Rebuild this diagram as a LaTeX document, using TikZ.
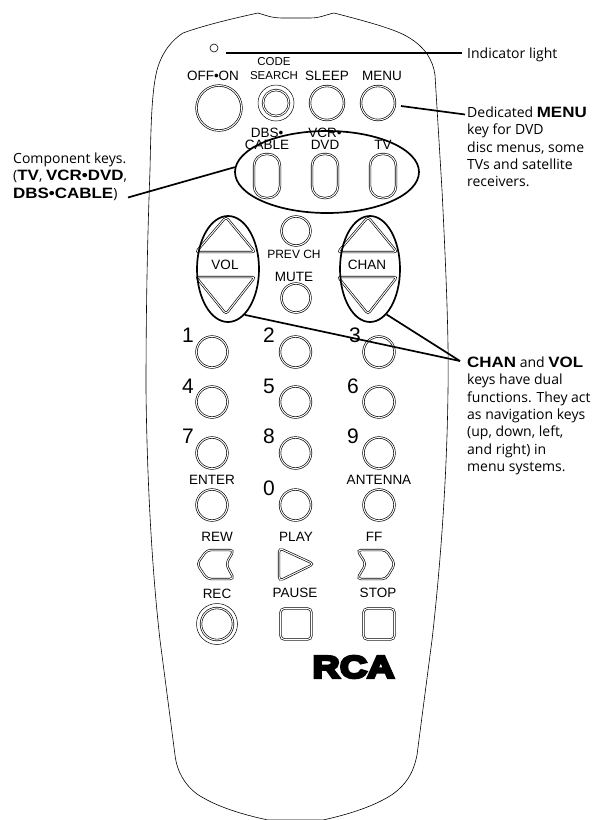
\documentclass[tikz,border=0pt]{standalone}
\usepackage{fontspec}
\usepackage{tikz}
\usetikzlibrary{positioning,shapes.geometric}
\setmainfont{Liberation Sans}
\newfontfamily\notefont{Open Sans}
\newfontfamily\wordfont[FakeStretch=1.13]{Liberation Sans}
\newfontfamily\rcafont[BoldFeatures={FakeBold=9,FakeStretch=1.22}]{Liberation Sans}
\newcommand{\kw}[1]{{\wordfont\bfseries\fontsize{15}{17.4}\selectfont #1}}
\tikzset{
  key/.style = {draw, circle, double, line width=0.65pt, double distance=1pt, inner sep=0, minimum size=29pt},
  keyline/.style = {draw, double, line width=0.65pt, double distance=1pt},
  lab/.style = {inner sep=0, font=\fontsize{13.5}{14}\selectfont},
  small/.style = {inner sep=0, font=\fontsize{11.5}{12}\selectfont},
  digit/.style = {inner sep=0, font=\fontsize{21}{22}\selectfont},
  ring/.style = {draw, ellipse, line width=1.7pt, inner sep=0},
  leader/.style = {line width=1.7pt},
  note/.style = {inner sep=0, anchor=north west, align=left, font=\notefont\fontsize{14}{17.4}\selectfont}
}
\begin{document}
\begin{tikzpicture}[x=1pt, y=-1pt, node distance=83.5pt]
\useasboundingbox (0,0) rectangle (597,820);

% body of the remote
\draw[line width=0.6pt] (258,13) .. controls (268,16) and (272,18) .. (283,18) -- (310,18)
  .. controls (320,18) and (325,15) .. (334,13) .. controls (365,21) and (395,29) .. (408,37)
  .. controls (425,47) and (433,60) .. (435,75) -- (442,190) .. controls (446,270) and (449,340) .. (448,390)
  .. controls (447,480) and (440,570) .. (432,640) -- (417,755) .. controls (413,775) and (405,785) .. (393,794)
  .. controls (375,806) and (350,814) .. (323,820) -- (268,820)
  .. controls (240,814) and (215,806) .. (197,794) .. controls (185,785) and (177,772) .. (175,755)
  -- (160,640) .. controls (152,570) and (147,480) .. (146,390) .. controls (146,320) and (147,250) .. (150,170)
  .. controls (151,120) and (152,90) .. (157,70) .. controls (162,52) and (172,40) .. (183,33)
  .. controls (205,25) and (235,18) .. (258,13);

% top row
\node[draw, circle, line width=0.6pt, inner sep=0, minimum size=8pt] (light) at (214,48) {};
\node[key, minimum size=45pt] (power) at (219,108) {};
\node[key, minimum size=26pt] (code) at (276,103) {};
\node[draw, circle, line width=0.5pt, inner sep=0, minimum size=36pt] (codeo) at (276,103) {};
\node[key, minimum size=34pt] (sleep) at (327,103) {};
\node[key, minimum size=34pt] (menu) at (378,103) {};
\node[lab] (lpower) at (213,76) {OFF•ON};
\node[small] (lcode) at (274,62) {CODE};
\node[small] (lsearch) at (274,76) {SEARCH};
\node[lab] (lsleep) at (327,76) {SLEEP};
\node[lab] (lmenu) at (382,76) {MENU};

% component keys
\foreach \name/\xx in {dbs/267,vcr/325,tv/383}
  \draw[keyline, rounded corners=12pt] (\xx-13,154) -- (\xx+13,154) -- (\xx+13,198) -- (\xx-13,198) -- cycle;
\node[lab] (ldbs) at (267,133) {DBS•};
\node[lab] (lcable) at (267,145) {CABLE};
\node[lab] (lvcr) at (325,133) {VCR•};
\node[lab] (ldvd) at (325,145) {DVD};
\node[lab] (ltv) at (383,145) {TV};
\node[ring, minimum width=184pt, minimum height=82pt] (compring) at (327,172) {};

% prev ch and mute
\node[key] (prev) at (296,231) {};
\node[key] (mute) at (296,298) {};
\node[small, font=\fontsize{12}{12}\selectfont] (lprev) at (294,254) {PREV CH};
\node[lab] (lmute) at (294,277) {MUTE};

% vol and chan rockers
\foreach \xx in {226,368} {
  \draw[keyline, rounded corners=3pt] (\xx,217) -- (\xx+29,252) -- (\xx-30,252) -- cycle;
  \draw[keyline, rounded corners=3pt] (\xx,314) -- (\xx+29,277) -- (\xx-30,277) -- cycle;
}
\node[lab] (lvol) at (225,265) {VOL};
\node[lab] (lchan) at (367,265) {CHAN};
\node[ring, minimum width=62pt, minimum height=106pt] (volring) at (228,269) {};
\node[ring, minimum width=60pt, minimum height=106pt] (chanring) at (370,269) {};

% number keys
\node[key, minimum size=31pt] (k1) at (212,352) {};
\node[key, minimum size=31pt] (k2) [right of=k1] {};
\node[key, minimum size=31pt] (k3) [right of=k2] {};
\node[key, minimum size=31pt] (k4) at (212,402) {};
\node[key, minimum size=31pt] (k5) [right of=k4] {};
\node[key, minimum size=31pt] (k6) [right of=k5] {};
\node[key, minimum size=31pt] (k7) at (212,453) {};
\node[key, minimum size=31pt] (k8) [right of=k7] {};
\node[key, minimum size=31pt] (k9) [right of=k8] {};
\node[key, minimum size=31pt] (enter) at (212,505) {};
\node[key, minimum size=31pt] (k0) [right of=enter] {};
\node[key, minimum size=31pt] (ant) [right of=k0] {};
\node[digit] (d1) at (188,335) {1};
\node[digit] (d2) at (269,335) {2};
\node[digit] (d3) at (355,335) {3};
\node[digit] (d4) at (188,386) {4};
\node[digit] (d5) at (269,386) {5};
\node[digit] (d6) at (353,386) {6};
\node[digit] (d7) at (188,436) {7};
\node[digit] (d8) at (269,436) {8};
\node[digit] (d9) at (353,436) {9};
\node[digit] (d0) at (269,488) {0};
\node[lab] (lenter) at (212,480) {ENTER};
\node[lab] (lant) at (379,480) {ANTENNA};

% transport keys
\draw[keyline, rounded corners=4pt] (197,564) -- (207,550) -- (234,550) -- (226,564) -- (234,579) -- (207,579) -- cycle;
\draw[keyline, rounded corners=4pt] (279,548) -- (314,564) -- (279,581) -- cycle;
\draw[keyline, rounded corners=4pt] (395,564) -- (386,550) -- (357,550) -- (366,564) -- (357,579) -- (386,579) -- cycle;
\node[lab] (lrew) at (217,537) {REW};
\node[lab] (lplay) at (296,537) {PLAY};
\node[lab] (lff) at (374,537) {FF};
\node[key, minimum size=32pt] (rec) at (217,624) {};
\node[draw, circle, line width=0.5pt, inner sep=0, minimum size=41pt] (reco) at (217,624) {};
\node[keyline, rectangle, rounded corners=4pt, inner sep=0, minimum size=31pt] (pause) at (296,624) {};
\node[keyline, rectangle, rounded corners=4pt, inner sep=0, minimum size=31pt] (stop) at (379,624) {};
\node[lab] (lrec) at (217,594) {REC};
\node[lab] (lpause) at (295,593) {PAUSE};
\node[lab] (lstop) at (378,593) {STOP};
\node[inner sep=0, font=\rcafont\bfseries\fontsize{31}{31}\selectfont] (rca) at (353.5,667) {RCA};

% callouts
\node[note] (nlight) at (467,47.5) {Indicator light};
\node[note] (nmenu) at (467,106.5) {Dedicated \kw{MENU}\\key for DVD\\disc menus, some\\TVs and satellite\\receivers.};
\node[note] (ncomp) at (13,152.5) {Component keys.\\(\kw{TV}, \kw{VCR•DVD},\\\kw{DBS•CABLE})};
\node[note] (nchan) at (467,356.5) {\kw{CHAN} and \kw{VOL}\\keys have dual\\functions. They act\\as navigation keys\\(up, down, left,\\and right) in\\menu systems.};

\coordinate (a1) at (226,53);
\coordinate (a2) at (462,53);
\coordinate (b1) at (401,106);
\coordinate (b2) at (465,114.5);
\coordinate (c2) at (128,197.5);
\coordinate (e2) at (460,361);
\draw[leader] (a1)--(a2);
\draw[leader] (b1)--(b2);
\draw[leader] (compring.177)--(c2);
\draw[leader] (volring.-70)--(e2);
\draw[leader] (chanring.-70)--(e2);

\end{tikzpicture}
\end{document}
